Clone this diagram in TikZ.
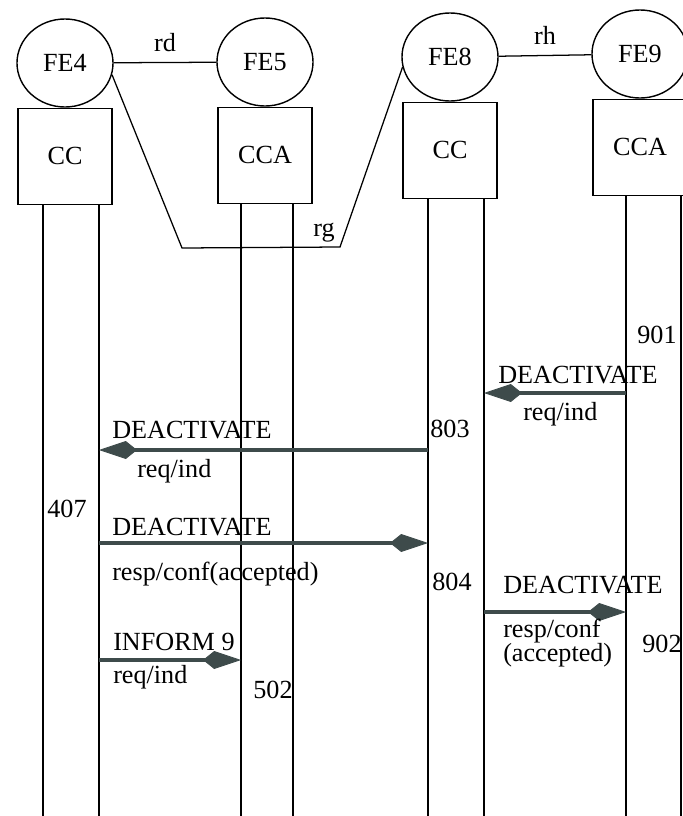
\documentclass[tikz,border=0pt]{standalone}
\usepackage{fontspec}
\setmainfont{Liberation Serif}
\usetikzlibrary{positioning, arrows.meta, shapes.geometric}
\definecolor{msggray}{HTML}{3E4B4B}

\begin{document}
\begin{tikzpicture}[
    x=0.025cm, y=-0.025cm,
    every node/.style={font=\fontsize{18.6}{21}\selectfont},
    fe/.style={draw, line width=1pt, ellipse, minimum width=2.4cm, minimum height=2.2cm, inner sep=0pt},
    unit/.style={draw, line width=1pt, minimum width=2.35cm, minimum height=2.4cm, inner sep=0pt},
    life/.style={line width=0.9pt},
    link/.style={line width=0.9pt},
    msg/.style={draw=msggray, line width=2.6pt, -{Kite[length=0.95cm, width=0.45cm, inset=0.28cm, line width=0.6pt]}},
    txt/.style={anchor=base west, inner sep=0pt},
    num/.style={anchor=base, inner sep=0pt},
  ]
    \useasboundingbox (0,0) rectangle (683,816);
    \clip (0,0) rectangle (683,816);

    % Functional entities and their units
    \node[fe] (fe4) at (65,63) {FE4};
    \node[fe] (fe5) at (265,62) {FE5};
    \node[fe] (fe8) at (450,57) {FE8};
    \node[fe] (fe9) at (640,54) {FE9};
    \node[unit, below=0pt of fe4] (cc4) {CC};
    \node[unit, below=0pt of fe5] (cca5) {CCA};
    \node[unit, below=0pt of fe8] (cc8) {CC};
    \node[unit, below=0pt of fe9] (cca9) {CCA};

    % Relationships
    \draw[link] (fe4) -- node[above=4pt] (rd) {rd} (fe5);
    \draw[link] (fe8) -- node[above=4pt] (rh) {rh} (fe9);
    \coordinate (rg1) at (182,248);
    \coordinate (rg2) at (340,247);
    \draw[link] (fe4.-14) -- (rg1) -- (rg2) node[above left] (rg) {rg} -- (fe8.192);

    % Lifelines
    \foreach \nd/\xa/\xb in {cc4/43/99, cca5/241/293, cc8/428/484, cca9/626/681} {
      \coordinate (\nd-l) at (\nd.south -| \xa,0);
      \coordinate (\nd-r) at (\nd.south -| \xb,0);
      \draw[life] (\nd-l) -- (\xa,816);
      \draw[life] (\nd-r) -- (\xb,816);
    }

    % Messages
    \draw[msg] (cca9-l |- 0,393) -- (cc8-r |- 0,393);
    \draw[msg] (cc8-l |- 0,450) -- (cc4-r |- 0,450);
    \draw[msg] (cc4-r |- 0,543) -- (cc8-l |- 0,543);
    \draw[msg] (cc8-r |- 0,612) -- (cca9-l |- 0,612);
    \draw[msg] (cc4-r |- 0,660) -- (cca5-l |- 0,660);

    % Message labels
    \node[txt] (m1a) at (498,383) {DEACTIVATE};
    \node[txt] (m1b) at (523,420) {req/ind};
    \node[txt] (m2a) at (112,438) {DEACTIVATE};
    \node[txt] (m2b) at (137,477) {req/ind};
    \node[txt] (m3a) at (112,535) {DEACTIVATE};
    \node[txt] (m3b) at (112,580) {resp/conf(accepted)};
    \node[txt] (m4a) at (503,593) {DEACTIVATE};
    \node[txt] (m4b) at (503,637) {resp/conf};
    \node[txt] (m4c) at (503,661) {(accepted)};
    \node[txt] (m5a) at (113,650) {INFORM 9};
    \node[txt] (m5b) at (113,683) {req/ind};

    % State numbers
    \node[num] (s901) at (657,343) {901};
    \node[num] (s803) at (450,437) {803};
    \node[num] (s407) at (67,517) {407};
    \node[num] (s804) at (452,590) {804};
    \node[num] (s902) at (662,652) {902};
    \node[num] (s502) at (273,698) {502};
\end{tikzpicture}
\end{document}
